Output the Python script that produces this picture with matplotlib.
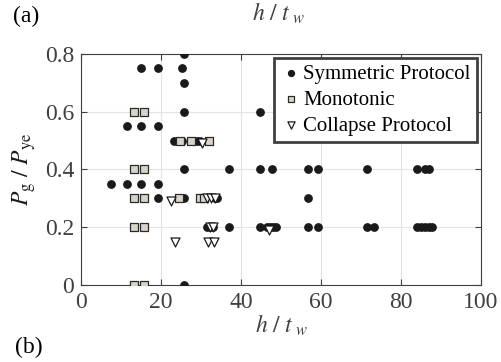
import matplotlib
matplotlib.use('Agg')
import matplotlib.pyplot as plt

plt.rcParams['font.family'] = ['Liberation Serif', 'DejaVu Serif']
plt.rcParams['mathtext.fontset'] = 'stix'

# symmetric protocol tests (h/tw, Pg/Pye)
sym_x = [25.6, 14.9, 19.2, 25.2, 25.6, 25.6, 44.75, 11.5, 14.9, 19.2,
         23.3, 25.2, 28.9, 29.75,
         25.6, 36.9, 44.75, 47.7, 56.8, 59.3, 71.5, 84.0, 86.0, 87.0,
         7.4, 11.5, 14.9, 19.2,
         19.3, 25.6, 33.5, 34.1, 56.8,
         31.6, 32.3, 33.0, 36.9, 44.75, 46.5, 47.2, 48.0, 48.8, 56.8, 59.3,
         71.4, 73.3, 84.0, 85.0, 86.0, 87.0, 87.7,
         25.6]
sym_y = [0.8, 0.75, 0.75, 0.75, 0.7, 0.6, 0.6, 0.55, 0.55, 0.55,
         0.5, 0.5, 0.5, 0.5,
         0.4, 0.4, 0.4, 0.4, 0.4, 0.4, 0.4, 0.4, 0.4, 0.4,
         0.35, 0.35, 0.35, 0.35,
         0.3, 0.3, 0.3, 0.3, 0.3,
         0.2, 0.2, 0.2, 0.2, 0.2, 0.2, 0.2, 0.2, 0.2, 0.2, 0.2,
         0.2, 0.2, 0.2, 0.2, 0.2, 0.2, 0.2,
         0.0]

# monotonic tests
mono_x = [13.1, 15.75, 24.75, 27.4, 32.1, 13.1, 15.75,
          13.1, 15.75, 24.5, 29.75, 30.8, 13.1, 15.75, 13.1, 15.75]
mono_y = [0.6, 0.6, 0.5, 0.5, 0.5, 0.4, 0.4,
          0.3, 0.3, 0.3, 0.3, 0.3, 0.2, 0.2, 0.0, 0.0]

# collapse protocol tests
col_x = [30.2, 22.4, 31.6, 32.6, 33.6, 32.3, 33.0, 47.0, 23.5, 31.8, 33.3]
col_y = [0.49, 0.29, 0.3, 0.3, 0.3, 0.2, 0.2, 0.19, 0.15, 0.15, 0.15]

fig = plt.figure(figsize=(5.01, 3.62), dpi=100)
ax = fig.add_axes([0.162, 0.213, 0.798, 0.638])

ax.scatter(sym_x, sym_y, s=28, marker='o', color='#1a1a1a', zorder=3,
           label='Symmetric Protocol')
ax.scatter(mono_x, mono_y, s=32, marker='s', facecolor='#d8d4cc',
           edgecolor='#2a2a2a', linewidth=0.9, zorder=4, label='Monotonic')
ax.scatter(col_x, col_y, s=42, marker='v', facecolor='white',
           edgecolor='#1a1a1a', linewidth=0.9, zorder=5,
           label='Collapse Protocol')

ax.set_xlim(0, 100)
ax.set_ylim(0, 0.8)
ax.set_xticks([0, 20, 40, 60, 80, 100])
ax.set_yticks([0, 0.2, 0.4, 0.6, 0.8])
ax.set_yticklabels(['0', '0.2', '0.4', '0.6', '0.8'])
ax.grid(True, color='#e3e3e3', linewidth=0.8)
ax.set_axisbelow(True)
ax.tick_params(direction='in', top=True, right=True, labelsize=17,
               colors='#404040', length=4, pad=5)
for s in ax.spines.values():
    s.set_color('#404040')
    s.set_linewidth(0.8)

ax.set_xlabel(r'$h\ /\ t_{\ w}$', fontsize=17, color='#404040', labelpad=0)
ax.set_ylabel(r'$P_{\rm g}\ /\ P_{\rm ye}$', fontsize=17, color='#1a1a1a',
              labelpad=5)

leg = ax.legend(loc='upper right', fontsize=15, frameon=True, fancybox=False,
                handletextpad=0.1, handlelength=1.0, borderpad=0.3,
                labelspacing=0.3, borderaxespad=0.2, markerscale=0.8)
leg.get_frame().set_edgecolor('#404040')
leg.get_frame().set_linewidth(2)
leg.get_frame().set_alpha(1)

fig.text(0.555, 0.999, r'$h\ /\ t_{\ w}$', fontsize=17, color='#404040',
         ha='center', va='top')
fig.text(0.026, 0.955, '(a)', fontsize=17, ha='left', va='center')
fig.text(0.03, 0.04, '(b)', fontsize=17, ha='left', va='center')

fig.savefig('out.png', dpi=100)
